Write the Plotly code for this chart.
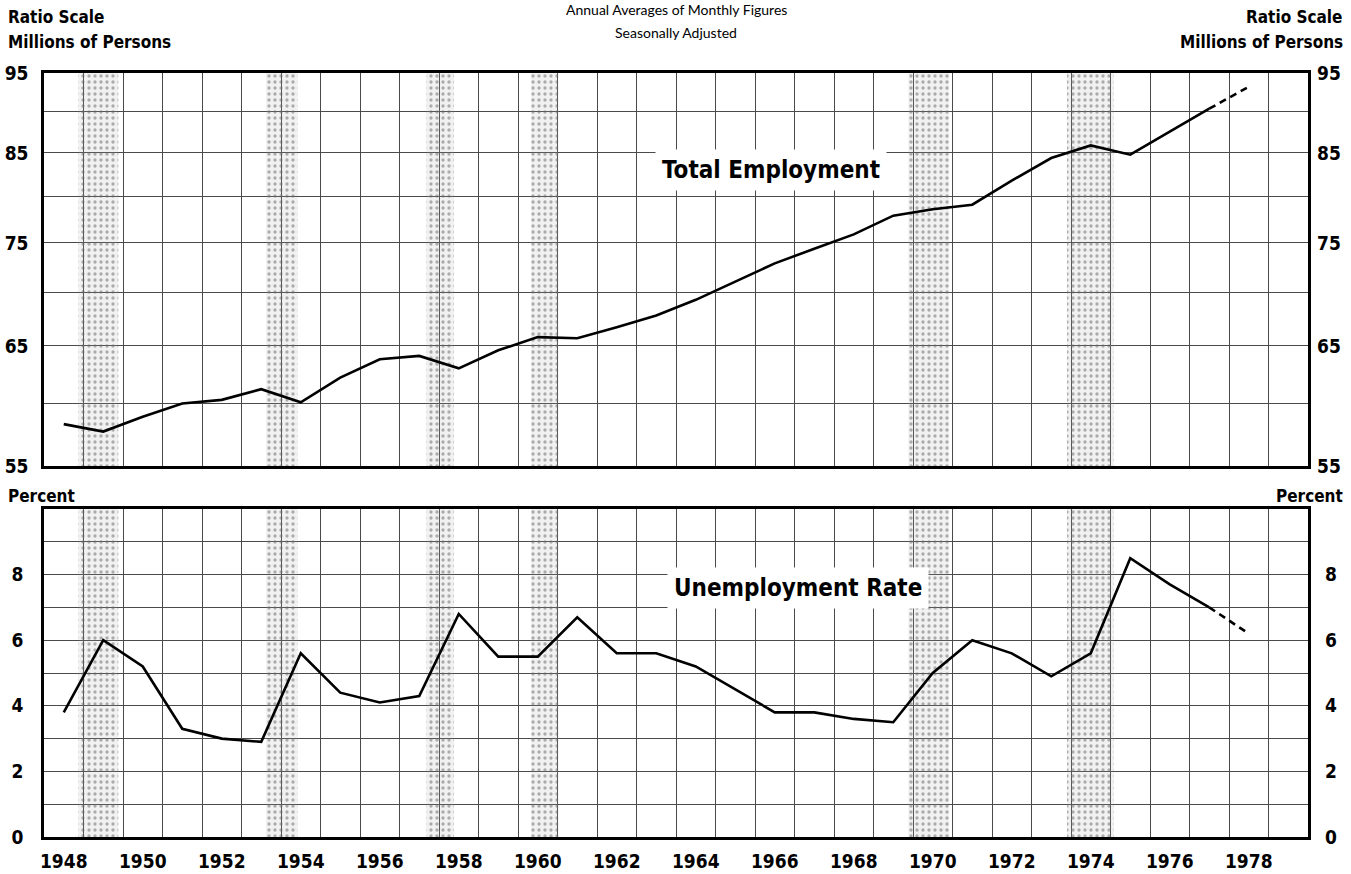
import math
import plotly.graph_objects as go

# ---------------- data ----------------
years = list(range(1948, 1978))
employment = [58.3, 57.7, 58.9, 60.0, 60.3, 61.2, 60.1, 62.2, 63.8, 64.1,
              63.0, 64.6, 65.8, 65.7, 66.7, 67.8, 69.3, 71.1, 72.9, 74.4,
              75.9, 77.9, 78.6, 79.1, 81.8, 84.4, 85.9, 84.8, 87.6, 90.4]
unemployment = [3.8, 6.0, 5.2, 3.3, 3.0, 2.9, 5.6, 4.4, 4.1, 4.3,
                6.8, 5.5, 5.5, 6.7, 5.6, 5.6, 5.2, 4.5, 3.8, 3.8,
                3.6, 3.5, 5.0, 6.0, 5.6, 4.9, 5.6, 8.5, 7.7, 7.0]
proj_years = [1977, 1978]
proj_employment = [90.4, 93.2]
proj_unemployment = [7.0, 6.2]

recession_start = [1948.87, 1953.62, 1957.68, 1960.33, 1969.88, 1973.9]
recession_end = [1949.88, 1954.42, 1958.38, 1961.02, 1970.92, 1975.08]

emp_ticks = [55, 65, 75, 85, 95]
emp_minor = [60, 70, 80, 90]
unemp_ticks = [0, 2, 4, 6, 8]
unemp_minor = list(range(0, 11))
year_labels = list(range(1948, 1979, 2))
year_grid = list(range(1948, 1981))

X_RANGE = [1948, 1980]
EMP_RANGE = [55, 95]
UNEMP_RANGE = [0, 10]

# ---------------- style ----------------
NUM_FONT = dict(family="Liberation Sans Narrow, DejaVu Sans Condensed, Arial Narrow, sans-serif",
                size=19, color="black", weight="bold")
HEAD_FONT = dict(family="DejaVu Sans Condensed, DejaVu Sans, sans-serif",
                 size=17, color="black", weight="bold")
LABEL_FONT = dict(family="Liberation Sans Narrow, DejaVu Sans Condensed, sans-serif",
                  size=24, color="black", weight="bold")
TITLE_FONT = dict(family="Lato, Open Sans, sans-serif", size=14, color="black")
GRID = "#4a4a4a"

fig = go.Figure()

def mid(yrs):
    return [y + 0.5 for y in yrs]

# recession shading
for s, e in zip(recession_start, recession_end):
    for xa, ya, lo, hi in [("x", "y", EMP_RANGE[0], EMP_RANGE[1]),
                           ("x2", "y2", UNEMP_RANGE[0], UNEMP_RANGE[1])]:
        fig.add_trace(go.Scatter(
            x=[s, e, e, s, s], y=[lo, lo, hi, hi, lo],
            xaxis=xa, yaxis=ya, mode="none",
            fill="toself", fillcolor="rgba(160,160,160,0.15)",
            fillpattern=dict(shape=".", fgcolor="#666", size=6, solidity=0.25,
                             fillmode="overlay"),
            hoverinfo="skip", showlegend=False))

# employment
fig.add_trace(go.Scatter(x=mid(years), y=employment, xaxis="x", yaxis="y",
                         mode="lines", line=dict(color="black", width=2.6),
                         showlegend=False))
fig.add_trace(go.Scatter(x=mid(proj_years), y=proj_employment, xaxis="x", yaxis="y",
                         mode="lines", line=dict(color="black", width=2.6, dash="7px,5px"),
                         showlegend=False))
# unemployment
fig.add_trace(go.Scatter(x=mid(years), y=unemployment, xaxis="x2", yaxis="y2",
                         mode="lines", line=dict(color="black", width=2.6),
                         showlegend=False))
fig.add_trace(go.Scatter(x=mid(proj_years), y=proj_unemployment, xaxis="x2", yaxis="y2",
                         mode="lines", line=dict(color="black", width=2.6, dash="7px,5px"),
                         showlegend=False))
# invisible traces for right-hand axes
fig.add_trace(go.Scatter(x=mid(years), y=employment, xaxis="x", yaxis="y3",
                         mode="lines", line=dict(width=0), opacity=0,
                         hoverinfo="skip", showlegend=False))
fig.add_trace(go.Scatter(x=mid(years), y=unemployment, xaxis="x2", yaxis="y4",
                         mode="lines", line=dict(width=0), opacity=0,
                         hoverinfo="skip", showlegend=False))

W, H = 1351, 874
ML, MR, MT, MB = 44, 43, 73, 37
plot_h = H - MT - MB
plot_w = W - ML - MR

def py(pix):
    return (H - MB - pix) / plot_h

def px(pix):
    return (pix - ML) / plot_w

top_dom = [py(466), 1.0]
bot_dom = [0.0, py(509)]

xcommon = dict(range=X_RANGE, showline=True, mirror=True, linecolor="black",
               linewidth=2.5, showgrid=False, zeroline=False, automargin=False,
               minor=dict(tickvals=year_grid, showgrid=True, gridcolor=GRID,
                          gridwidth=1, ticks=""))
emp_log_range = [math.log10(EMP_RANGE[0]), math.log10(EMP_RANGE[1])]

fig.update_layout(
    width=W, height=H,
    margin=dict(l=ML, r=MR, t=MT, b=MB, autoexpand=False),
    paper_bgcolor="white", plot_bgcolor="white",
    showlegend=False,
    xaxis=dict(**xcommon, anchor="y", domain=[0, 1], showticklabels=False, ticks="",
               tickvals=[]),
    xaxis2=dict(**xcommon, anchor="y2", domain=[0, 1], matches="x",
                tickvals=mid(year_labels), ticktext=[str(y) for y in year_labels],
                ticks="", tickfont=NUM_FONT, ticklabelstandoff=5),
    yaxis=dict(type="log", range=emp_log_range,
               domain=top_dom, anchor="x", showline=True, mirror=True,
               linecolor="black", linewidth=2.5, tickvals=emp_ticks,
               ticktext=[str(v) for v in emp_ticks], ticks="", tickfont=NUM_FONT,
               ticklabelstandoff=9, showgrid=True, gridcolor=GRID, gridwidth=1,
               zeroline=False, automargin=False,
               minor=dict(tickvals=emp_minor, showgrid=True, gridcolor=GRID,
                          gridwidth=1, ticks="")),
    yaxis3=dict(type="log", range=emp_log_range,
                overlaying="y", side="right", anchor="x", showgrid=False,
                tickvals=emp_ticks, ticktext=[str(v) for v in emp_ticks],
                ticks="", tickfont=NUM_FONT, ticklabelstandoff=8, zeroline=False,
                showline=False, automargin=False),
    yaxis2=dict(range=UNEMP_RANGE, domain=bot_dom, anchor="x2", showline=True,
                mirror=True, linecolor="black", linewidth=2.5,
                tickvals=unemp_ticks, ticktext=[str(v) for v in unemp_ticks],
                ticks="", tickfont=NUM_FONT, ticklabelstandoff=14,
                showgrid=True, gridcolor=GRID, gridwidth=1, zeroline=False,
                automargin=False,
                minor=dict(tickvals=unemp_minor, showgrid=True, gridcolor=GRID,
                           gridwidth=1, ticks="")),
    yaxis4=dict(range=UNEMP_RANGE, overlaying="y2", side="right", anchor="x2",
                showgrid=False, tickvals=unemp_ticks,
                ticktext=[str(v) for v in unemp_ticks], ticks="",
                tickfont=NUM_FONT, ticklabelstandoff=16, zeroline=False,
                showline=False, automargin=False),
)

ann = []
# title lines
ann.append(dict(text="Annual Averages of Monthly Figures", x=0.5, y=py(10),
                xref="paper", yref="paper", showarrow=False, font=TITLE_FONT,
                xanchor="center", yanchor="middle"))
ann.append(dict(text="Seasonally Adjusted", x=0.5, y=py(32),
                xref="paper", yref="paper", showarrow=False, font=TITLE_FONT,
                xanchor="center", yanchor="middle"))
# headers
for txt, ypix in [("Ratio Scale", 17), ("Millions of Persons", 42), ("Percent", 496)]:
    ann.append(dict(text=txt, x=px(6), y=py(ypix), xref="paper",
                    yref="paper", showarrow=False, font=HEAD_FONT,
                    xanchor="left", yanchor="middle"))
    ann.append(dict(text=txt, x=px(1345), y=py(ypix), xref="paper",
                    yref="paper", showarrow=False, font=HEAD_FONT,
                    xanchor="right", yanchor="middle"))
# series labels
ann.append(dict(text="Total Employment", x=1966.4, y=math.log10(83.0),
                xref="x", yref="y", showarrow=False, font=LABEL_FONT,
                bgcolor="white", borderpad=6))
ann.append(dict(text="Unemployment Rate", x=1967.1, y=7.6,
                xref="x2", yref="y2", showarrow=False, font=LABEL_FONT,
                bgcolor="white", borderpad=6))
fig.update_layout(annotations=ann)

fig.write_html("out.html",
               config={"displayModeBar": False},
               post_script="document.body.style.margin='0';"
                           "document.body.style.overflow='hidden';")
